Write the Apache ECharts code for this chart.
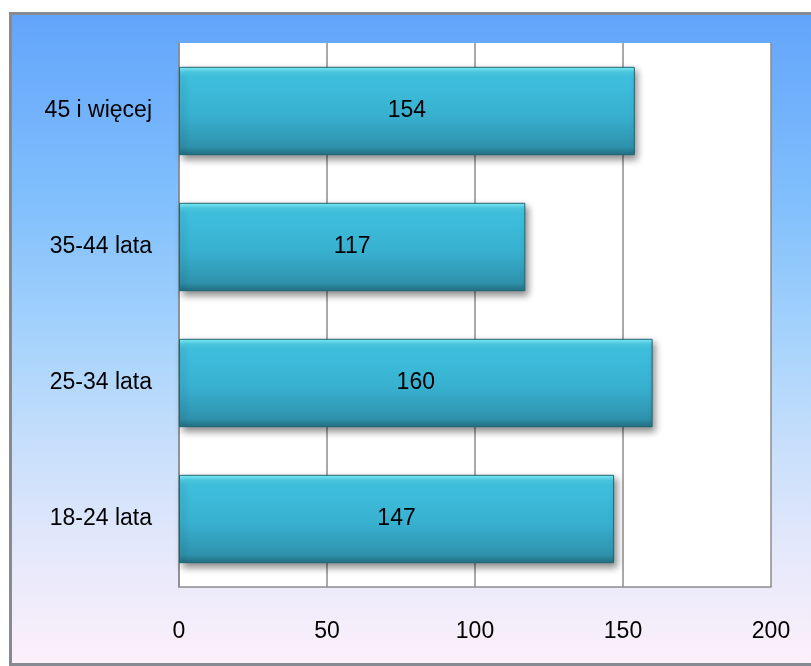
<!DOCTYPE html>
<html>
<head>
<meta charset="utf-8">
<script src="https://cdn.jsdelivr.net/npm/echarts@6/dist/echarts.min.js"></script>
<style>
  html, body { margin: 0; padding: 0; background: #ffffff; }
  #chart { width: 811px; height: 666px; }
</style>
</head>
<body>
<div id="chart"></div>
<script>
// Age groups, listed bottom to top
const categories = ['18-24 lata', '25-34 lata', '35-44 lata', '45 i więcej'];
const counts = [147, 160, 117, 154];
const axisTicks = [0, 50, 100, 150, 200];

const FONT = '"Liberation Sans", Arial, sans-serif';
const chart = echarts.init(document.getElementById('chart'), null, { renderer: 'canvas' });

const barFill = new echarts.graphic.LinearGradient(0, 0, 0, 1, [
  { offset: 0, color: '#86f6ff' },
  { offset: 0.06, color: '#4fd0ea' },
  { offset: 0.12, color: '#3fc0de' },
  { offset: 0.55, color: '#38b0d0' },
  { offset: 0.9, color: '#2f93ad' },
  { offset: 1, color: '#226f82' }
]);

chart.setOption({
  backgroundColor: 'transparent',
  animation: false,
  graphic: [{
    type: 'rect',
    z: -10,
    silent: true,
    shape: { x: 10.5, y: 13.5, width: 820, height: 651 },
    style: {
      fill: new echarts.graphic.LinearGradient(0, 0, 0, 1, [
        { offset: 0, color: '#62a4fb' },
        { offset: 0.3, color: '#82c0fc' },
        { offset: 0.5, color: '#a6d3fc' },
        { offset: 0.65, color: '#c4defb' },
        { offset: 0.82, color: '#e4e8fb' },
        { offset: 1, color: '#fdf0fa' }
      ]),
      stroke: '#878a90',
      lineWidth: 3
    }
  }, {
    type: 'rect',
    z: -9,
    silent: true,
    shape: { x: 179, y: 43, width: 592, height: 544 },
    style: { fill: '#ffffff' }
  }],
  grid: { left: 179, right: 40, top: 43, bottom: 79, containLabel: false },
  xAxis: {
    type: 'value',
    min: axisTicks[0],
    max: axisTicks[axisTicks.length - 1],
    interval: axisTicks[1] - axisTicks[0],
    axisLine: { show: true, lineStyle: { color: '#8c8c8c', width: 1.5 } },
    axisTick: { show: false },
    splitLine: { show: true, lineStyle: { color: '#8c8c8c', width: 1.5 } },
    axisLabel: { color: '#000', fontFamily: FONT, fontSize: 23, margin: 33 }
  },
  yAxis: {
    type: 'category',
    data: categories,
    axisLine: { show: true, lineStyle: { color: '#8c8c8c', width: 1.5 } },
    axisTick: { show: false },
    axisLabel: { color: '#000', fontFamily: FONT, fontSize: 23, margin: 27 }
  },
  series: [{
    type: 'bar',
    data: counts,
    barCategoryGap: '35%',
    itemStyle: {
      color: barFill,
      borderColor: '#1f6675',
      borderWidth: 1,
      shadowColor: 'rgba(0,0,0,0.45)',
      shadowBlur: 7,
      shadowOffsetX: 3,
      shadowOffsetY: 4
    },
    label: {
      show: true,
      position: 'inside',
      color: '#000',
      fontFamily: FONT,
      fontSize: 23
    }
  }]
});
</script>
</body>
</html>
